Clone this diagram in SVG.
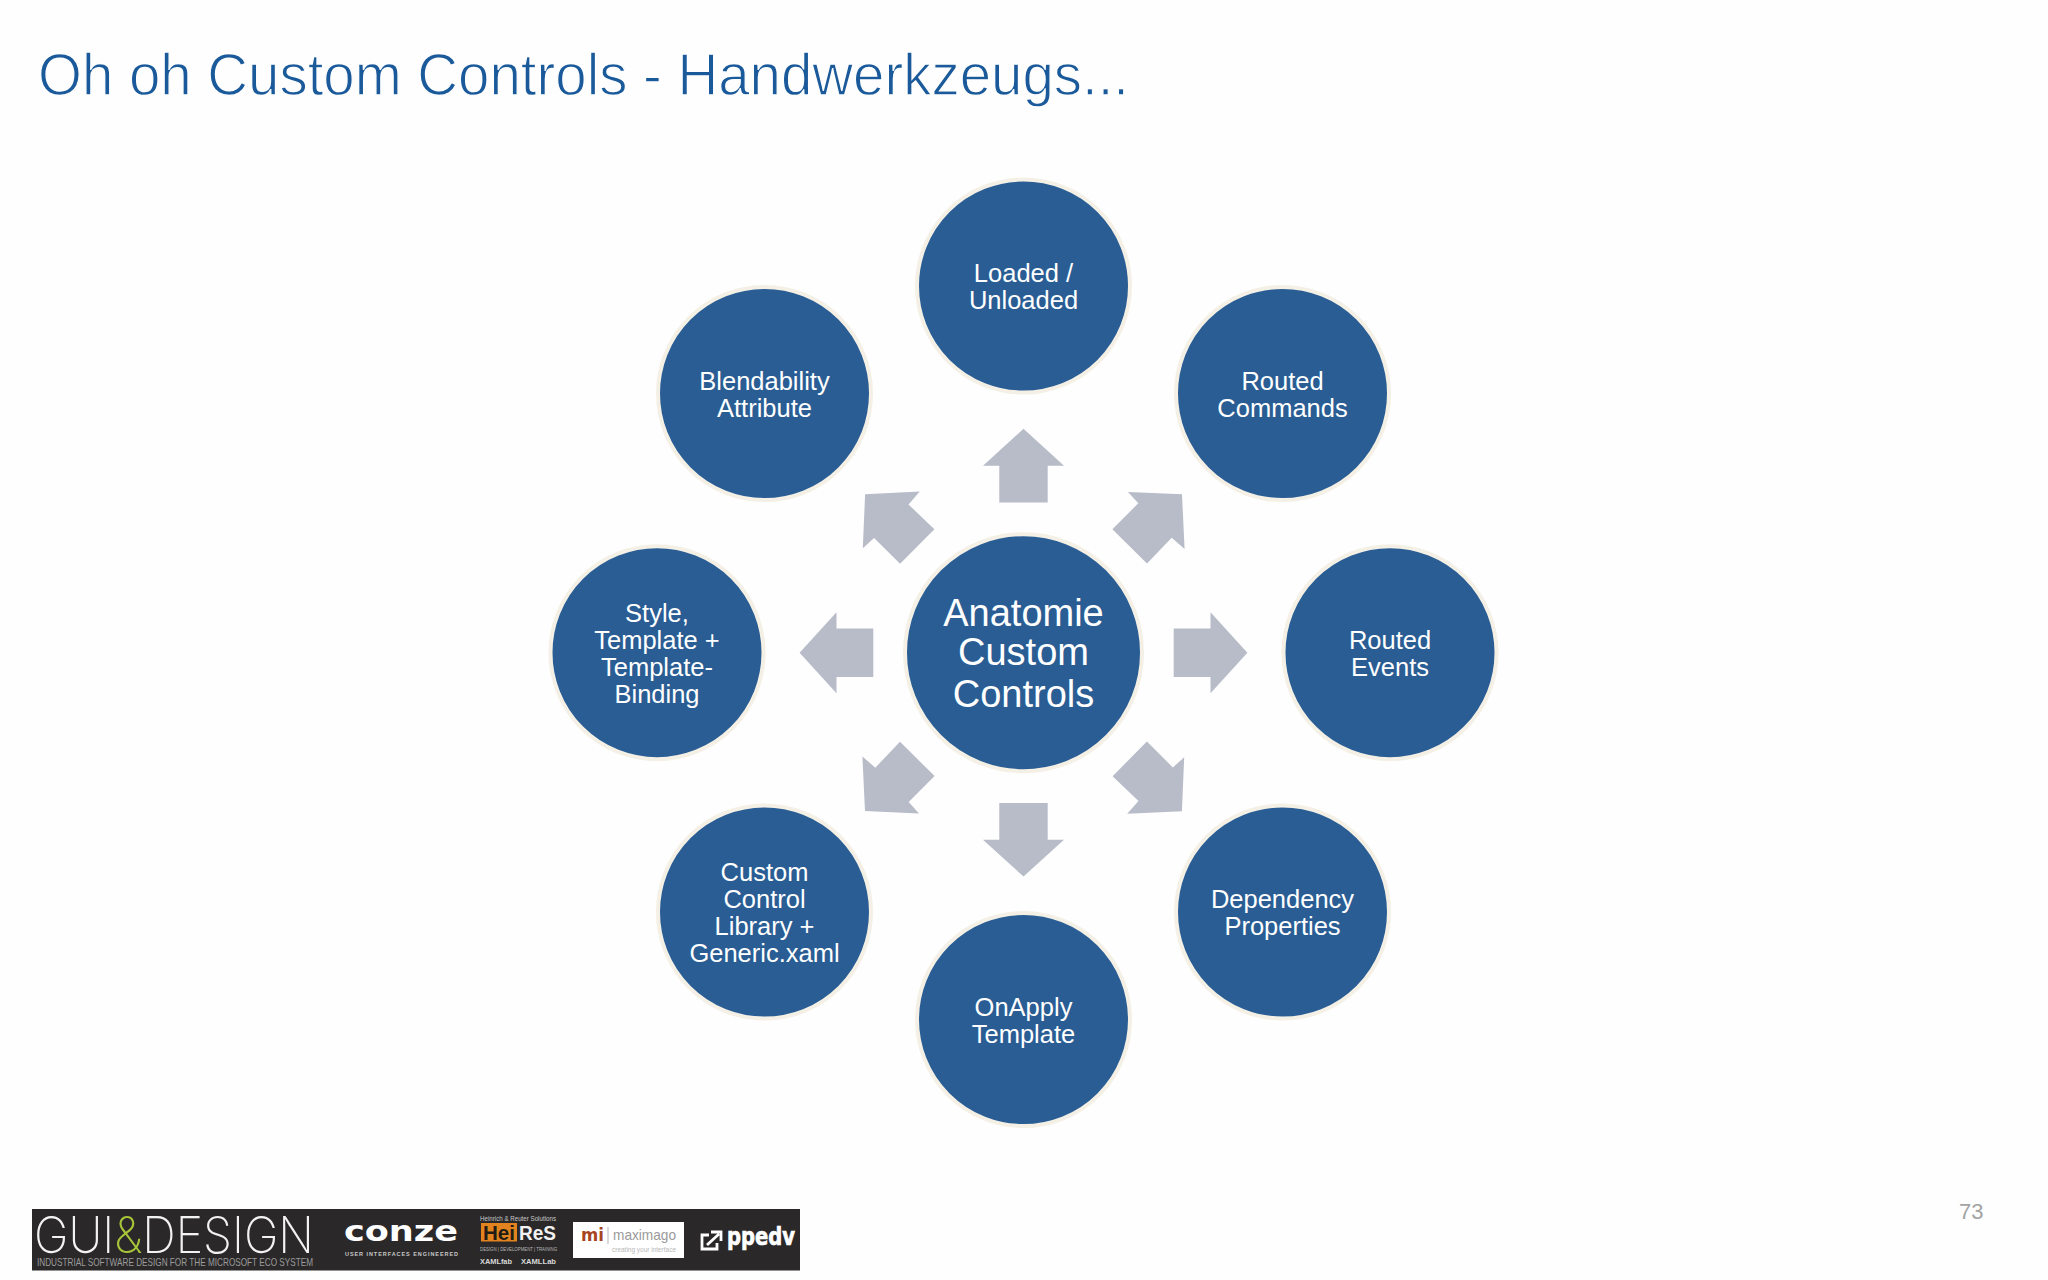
<svg xmlns="http://www.w3.org/2000/svg" width="2048" height="1280" viewBox="0 0 2048 1280">
<style>
.bg{fill:#fefefe}
.c{fill:#295d94;stroke:#f4f0e6;stroke-width:4}
.a{fill:#b7bcc8}
text{font-family:"Liberation Sans",Arial,sans-serif}
.n{fill:#fff;font-size:25.5px;text-anchor:middle}
.m{fill:#fff;font-size:38px;text-anchor:middle}
.t{fill:#1a5a9a;font-size:60px;stroke:#fefefe;stroke-width:1.3px}
.p{fill:#a3a3a3;font-size:22px}
.lg{font-family:Inter,"Liberation Sans",sans-serif;font-weight:200;font-size:50px;fill:#f2f2f2}
.b{font-weight:bold}
.dj{font-family:"DejaVu Sans",sans-serif;font-weight:bold}
</style>
<defs>
<polygon id="up" points="1023.5,428.8 1064,465.7 1047.7,465.7 1047.7,502.5 999.3,502.5 999.3,465.7 983,465.7"/>
<polygon id="diag" points="1128,492 1182,494.3 1184.6,549 1171.7,537.7 1147,563.6 1112.4,529.3 1138.3,503.3"/>
</defs>
<rect class="bg" width="2048" height="1280"/>
<text id="title" class="t" x="38" y="94.5" textLength="1091" lengthAdjust="spacingAndGlyphs">Oh oh Custom Controls - Handwerkzeugs...</text>
<g id="connectors" class="a">
<use href="#up"/>
<use href="#diag"/>
<use href="#up" transform="rotate(90 1023.5 652.7)"/>
<use href="#diag" transform="rotate(90 1023.5 652.7)"/>
<use href="#up" transform="rotate(180 1023.5 652.7)"/>
<use href="#diag" transform="rotate(180 1023.5 652.7)"/>
<use href="#up" transform="rotate(270 1023.5 652.7)"/>
<use href="#diag" transform="rotate(270 1023.5 652.7)"/>
</g>
<g id="center"><circle class="c" cx="1023.5" cy="652.7" r="118.5"/><text class="m" x="1023.5" y="625.5">Anatomie</text><text class="m" x="1023.5" y="665">Custom</text><text class="m" x="1023.5" y="706.5">Controls</text></g>
<g id="loaded"><circle class="c" cx="1023.5" cy="286" r="106.5"/><text class="n" x="1023.5" y="281.5">Loaded /</text><text class="n" x="1023.5" y="308.5">Unloaded</text></g>
<g id="commands"><circle class="c" cx="1282.5" cy="393.5" r="106.5"/><text class="n" x="1282.5" y="389.5">Routed</text><text class="n" x="1282.5" y="416.5">Commands</text></g>
<g id="events"><circle class="c" cx="1390" cy="652.7" r="106.5"/><text class="n" x="1390" y="648.5">Routed</text><text class="n" x="1390" y="675.5">Events</text></g>
<g id="dependency"><circle class="c" cx="1282.5" cy="912" r="106.5"/><text class="n" x="1282.5" y="907.5">Dependency</text><text class="n" x="1282.5" y="934.5">Properties</text></g>
<g id="onapply"><circle class="c" cx="1023.5" cy="1019.5" r="106.5"/><text class="n" x="1023.5" y="1015.5">OnApply</text><text class="n" x="1023.5" y="1042.5">Template</text></g>
<g id="library"><circle class="c" cx="764.5" cy="912" r="106.5"/><text class="n" x="764.5" y="880.5">Custom</text><text class="n" x="764.5" y="907.5">Control</text><text class="n" x="764.5" y="934.5">Library +</text><text class="n" x="764.5" y="961.5">Generic.xaml</text></g>
<g id="style"><circle class="c" cx="657" cy="652.7" r="106.5"/><text class="n" x="657" y="621.5">Style,</text><text class="n" x="657" y="648.5">Template +</text><text class="n" x="657" y="675.5">Template-</text><text class="n" x="657" y="702.5">Binding</text></g>
<g id="blendability"><circle class="c" cx="764.5" cy="393.5" r="106.5"/><text class="n" x="764.5" y="389.5">Blendability</text><text class="n" x="764.5" y="416.5">Attribute</text></g>
<text id="page" class="p" x="1959" y="1219">73</text>
<g id="logos">
<rect x="32" y="1209" width="768" height="61.5" fill="#2a2829"/>
<text class="lg" x="34" y="1253" textLength="280" lengthAdjust="spacingAndGlyphs">GUI<tspan fill="#a9c53a">&amp;</tspan>DESIGN</text>
<text x="37" y="1265.5" font-size="10.5" fill="#9c9c9c" textLength="276" lengthAdjust="spacingAndGlyphs">INDUSTRIAL SOFTWARE DESIGN FOR THE MICROSOFT ECO SYSTEM</text>
<text class="dj" x="344" y="1241" font-size="29" fill="#fff" textLength="114" lengthAdjust="spacingAndGlyphs">conze</text>
<text class="b" x="345" y="1256" font-size="5.5" fill="#c8c8c8" textLength="113">USER INTERFACES ENGINEERED</text>
<text x="480" y="1221" font-size="6.5" fill="#c8c8c8" textLength="76" lengthAdjust="spacingAndGlyphs">Heinrich &amp; Reuter Solutions</text>
<rect x="481" y="1223" width="36" height="18.5" fill="#e2831f"/>
<text class="b" x="483" y="1240" font-size="21" fill="#221c14" textLength="32" lengthAdjust="spacingAndGlyphs">Hei</text>
<text class="b" x="519" y="1240" font-size="21" fill="#f2f2f2" textLength="37" lengthAdjust="spacingAndGlyphs">ReS</text>
<text x="480" y="1251" font-size="5.5" fill="#b8b8b8" textLength="77" lengthAdjust="spacingAndGlyphs">DESIGN | DEVELOPMENT | TRAINING</text>
<text class="b" x="480" y="1264" font-size="7" fill="#d8d8d8" textLength="32" lengthAdjust="spacingAndGlyphs">XAMLfab</text>
<text class="b" x="521" y="1264" font-size="7" fill="#d8d8d8" textLength="35" lengthAdjust="spacingAndGlyphs">XAMLLab</text>
<rect x="573" y="1222" width="111" height="36" fill="#fff"/>
<text class="dj" x="581" y="1241" font-size="18" fill="#a8431f" textLength="23" lengthAdjust="spacingAndGlyphs">mi</text>
<path d="M608 1227V1244" stroke="#b5b5b5" fill="none"/>
<text x="613" y="1240" font-size="15" fill="#9a9a9a" textLength="63" lengthAdjust="spacingAndGlyphs">maximago</text>
<text x="612" y="1252" font-size="7" fill="#b8b8b8" textLength="64" lengthAdjust="spacingAndGlyphs">creating your interface</text>
<path d="M709 1235H702V1249H717V1243M707 1245L719 1234M711 1232H721V1241" fill="none" stroke="#fff" stroke-width="2.8"/>
<text class="dj" x="727" y="1245" font-size="25" fill="#fff" stroke="#fff" stroke-width=".7" textLength="68" lengthAdjust="spacingAndGlyphs">ppedv</text>
</g>
</svg>
